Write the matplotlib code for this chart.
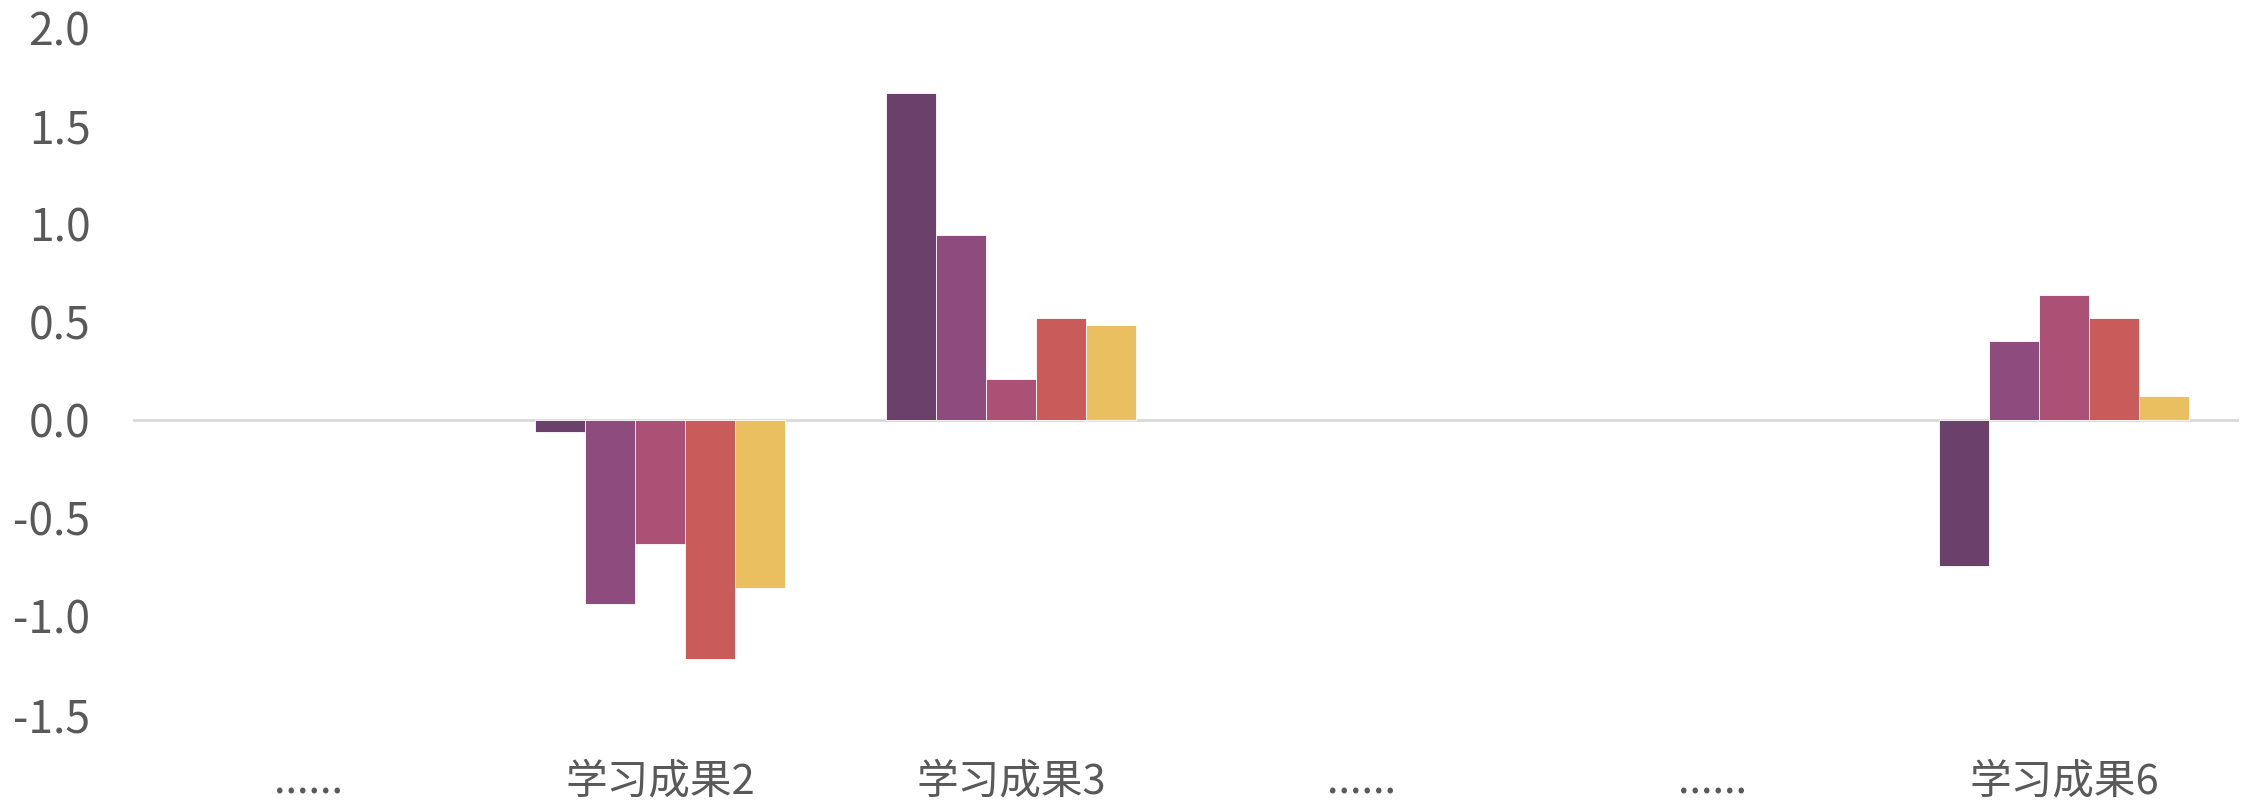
import numpy as np
import matplotlib
matplotlib.use("Agg")
import matplotlib.pyplot as plt

plt.rcParams['font.family'] = ['Noto Sans CJK SC', 'DejaVu Sans']

# data
categories = ["......", "学习成果2", "学习成果3", "......", "......", "学习成果6"]
series_names = ["系列1", "系列2", "系列3", "系列4", "系列5"]
s1 = [np.nan, -0.06, 1.665, np.nan, np.nan, -0.745]
s2 = [np.nan, -0.94, 0.94, np.nan, np.nan, 0.40]
s3 = [np.nan, -0.635, 0.21, np.nan, np.nan, 0.635]
s4 = [np.nan, -1.22, 0.52, np.nan, np.nan, 0.52]
s5 = [np.nan, -0.855, 0.485, np.nan, np.nan, 0.12]
yticks = [-1.5, -1.0, -0.5, 0.0, 0.5, 1.0, 1.5, 2.0]

colors = ["#6B416C", "#8D4B7E", "#AB5176", "#CA5B5B", "#E9BF5F"]
txt = "#595959"

fig = plt.figure(figsize=(22.47, 8.07), dpi=100)
ax = fig.add_axes([0.0594, 0.1152, 0.9372, 0.8506])

x = np.arange(len(categories))
w = 0.1425
for i, vals in enumerate([s1, s2, s3, s4, s5]):
    ax.bar(x + (i - 2) * w, vals, width=w, color=colors[i],
           edgecolor="white", linewidth=0.6, label=series_names[i], zorder=2)

ax.axhline(0, color="#D9D9D9", linewidth=2, zorder=1)

ax.set_xlim(-0.5, len(categories) - 0.5)
ax.set_ylim(-1.5, 2.0)
ax.set_yticks(yticks)
ax.set_yticklabels(["%.1f" % v for v in yticks], fontsize=32, color=txt)
ax.set_xticks(x)
ax.set_xticklabels(categories, fontsize=30, color=txt)
ax.tick_params(axis="y", length=0, pad=31)
ax.tick_params(axis="x", length=0, pad=34)
for s in ax.spines.values():
    s.set_visible(False)

fig.savefig("out.png", dpi=100)
